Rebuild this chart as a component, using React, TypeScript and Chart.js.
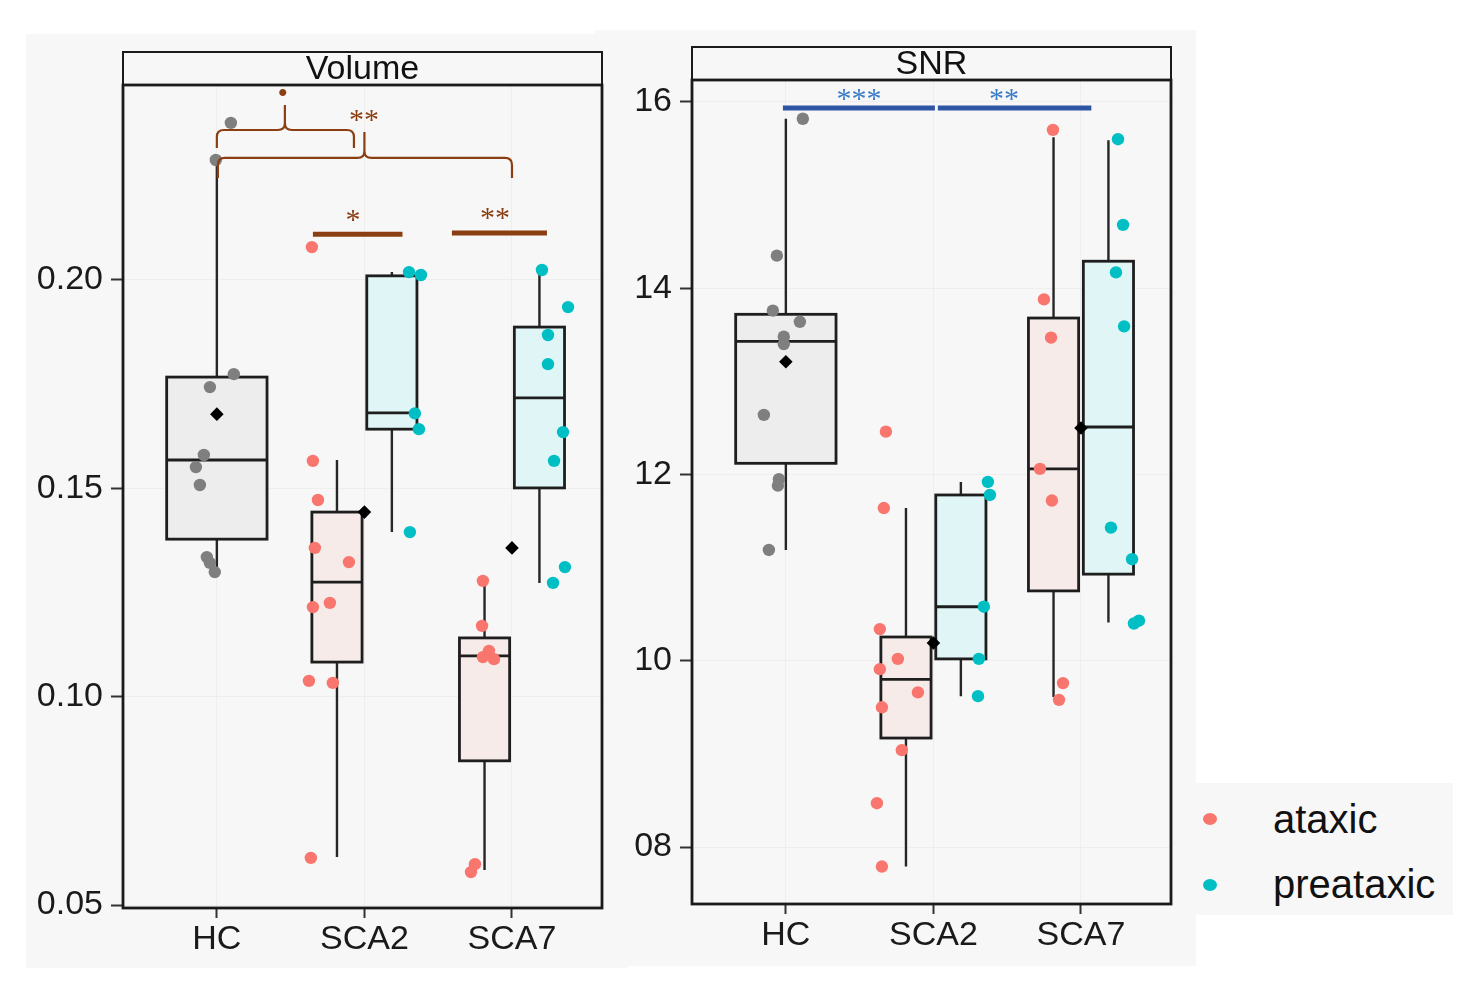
import React, { useEffect, useRef } from 'react';
import { Chart, registerables } from 'chart.js';

Chart.register(...registerables);

// ---------- shared ----------
const categories = ['HC', 'SCA2', 'SCA7'];
const groups = ['ataxic', 'preataxic'];
const groupColors = ['#F8766D', '#00BFC4'];
const hcColor = '#7f7f7f';

// ---------- Volume panel data ----------
const volumeTicks = [0.05, 0.1, 0.15, 0.2];
const volumeHC = [0.2377, 0.2288, 0.1774, 0.1743, 0.158, 0.1551, 0.1508, 0.1335, 0.1321, 0.1299];
const volumeHCJitter = [1.095, 0.993, 1.115, 0.953, 0.912, 0.858, 0.885, 0.932, 0.953, 0.986];
const volumeSCA2Ataxic = [0.2079, 0.1566, 0.1472, 0.1357, 0.1323, 0.1225, 0.1215, 0.1038, 0.1033, 0.0613];
const volumeSCA2AtaxicJitter = [1.644, 1.651, 1.685, 1.664, 1.895, 1.766, 1.651, 1.624, 1.786, 1.637];
const volumeSCA2Preataxic = [0.2019, 0.2012, 0.168, 0.1642, 0.1395];
const volumeSCA2PreataxicJitter = [2.302, 2.383, 2.342, 2.369, 2.308];
const volumeSCA7Ataxic = [0.1278, 0.117, 0.111, 0.1095, 0.109, 0.0598, 0.0579];
const volumeSCA7AtaxicJitter = [2.803, 2.797, 2.844, 2.803, 2.878, 2.749, 2.722];
const volumeSCA7Preataxic = [0.2024, 0.1935, 0.1868, 0.1798, 0.1635, 0.1566, 0.1311, 0.1273];
const volumeSCA7PreataxicJitter = [3.203, 3.38, 3.244, 3.244, 3.346, 3.285, 3.359, 3.278];
const volumeMeans = [0.1678, 0.1443, 0.1357];
// box stats: [lower whisker, Q1, median, Q3, upper whisker]
const volumeBoxHC = [0.1299, 0.1378, 0.1568, 0.1767, 0.2288];
const volumeBoxSCA2Ataxic = [0.0615, 0.1083, 0.1275, 0.1443, 0.1568];
const volumeBoxSCA2Preataxic = [0.1395, 0.1642, 0.1681, 0.201, 0.2019];
const volumeBoxSCA7Ataxic = [0.0584, 0.0846, 0.1098, 0.1141, 0.1278];
const volumeBoxSCA7Preataxic = [0.1273, 0.1501, 0.1717, 0.1887, 0.2024];
// significance annotations (data units)
const volumeBraces = [
  { x1: 1.0, x2: 1.929, tip: 1.461, yBar: 0.236, yEnd: 0.2317, yTip: 0.242 },
  { x1: 1.007, x2: 3.0, tip: 2.0, yBar: 0.2293, yEnd: 0.2245, yTip: 0.2355 },
];
const volumeSigBars = [
  { x1: 1.651, x2: 2.258, y: 0.211 },
  { x1: 2.593, x2: 3.237, y: 0.2113 },
];
const volumeSigLabels = [
  { x: 1.447, y: 0.2444, text: '•' },
  { x: 1.997, y: 0.2396, text: '**' },
  { x: 1.922, y: 0.2158, text: '*' },
  { x: 2.885, y: 0.2161, text: '**' },
];

// ---------- SNR panel data ----------
const snrTicks = [8, 10, 12, 14, 16];
const snrHC = [15.82, 14.35, 13.76, 13.64, 13.48, 13.4, 12.64, 11.95, 11.88, 11.19];
const snrHCJitter = [1.115, 0.939, 0.912, 1.095, 0.986, 0.986, 0.851, 0.953, 0.946, 0.885];
const snrSCA2Ataxic = [12.46, 11.64, 10.34, 10.02, 9.91, 9.66, 9.5, 9.04, 8.47, 7.79];
const snrSCA2AtaxicJitter = [1.678, 1.664, 1.637, 1.759, 1.637, 1.895, 1.651, 1.786, 1.617, 1.651];
const snrSCA2Preataxic = [11.92, 11.78, 10.58, 10.02, 9.62];
const snrSCA2PreataxicJitter = [2.369, 2.383, 2.342, 2.308, 2.302];
const snrSCA7Ataxic = [15.7, 13.88, 13.47, 12.06, 11.72, 9.76, 9.58];
const snrSCA7AtaxicJitter = [2.81, 2.749, 2.797, 2.722, 2.803, 2.878, 2.851];
const snrSCA7Preataxic = [15.6, 14.68, 14.17, 13.59, 11.43, 11.09, 10.43, 10.4];
const snrSCA7PreataxicJitter = [3.251, 3.285, 3.237, 3.292, 3.203, 3.346, 3.393, 3.359];
const snrMeans = [13.21, 10.19, 12.5];
const snrBoxHC = [11.19, 12.12, 13.43, 13.72, 15.82];
const snrBoxSCA2Ataxic = [7.79, 9.17, 9.8, 10.255, 11.64];
const snrBoxSCA2Preataxic = [9.62, 10.02, 10.58, 11.78, 11.92];
const snrBoxSCA7Ataxic = [9.61, 10.75, 12.06, 13.68, 15.62];
const snrBoxSCA7Preataxic = [10.41, 10.93, 12.51, 14.29, 15.59];
const snrSigBars = [
  { x1: 0.98, x2: 2.01, y: 15.935 },
  { x1: 2.03, x2: 3.07, y: 15.935 },
];
const snrSigLabels = [
  { x: 1.495, y: 16.086, text: '***' },
  { x: 2.478, y: 16.086, text: '**' },
];

// ---------- styling ----------
const FONT = '"Liberation Sans", Arial, sans-serif';
const BG = '#f7f7f7';
const DODGE = 0.186;
const SUB_HALF = 0.17;
const HC_HALF = 0.34;
const boxFills = { hc: '#ededed', ataxic: '#f6ebe9', preataxic: '#e0f5f5' };

type BoxSpec = { center: number; half: number; stats: number[]; fill: string };
type PanelSpec = {
  title: string;
  yMin: number;
  yMax: number;
  ticks: number[];
  tickLabel: (v: number) => string;
  hc: number[];
  hcX: number[];
  ataxic: number[][];
  ataxicX: number[][];
  preataxic: number[][];
  preataxicX: number[][];
  means: number[];
  boxes: BoxSpec[];
  braces: { x1: number; x2: number; tip: number; yBar: number; yEnd: number; yTip: number }[];
  bars: { x1: number; x2: number; y: number }[];
  labels: { x: number; y: number; text: string }[];
  annColor: string;
  labelColor: string;
  barWidth: number;
  padTop: number;
  padRight: number;
  xAxisHeight: number;
};

const volumeSpec: PanelSpec = {
  title: 'Volume',
  yMin: 0.04928,
  yMax: 0.2468,
  ticks: volumeTicks,
  tickLabel: (v) => v.toFixed(2),
  hc: volumeHC,
  hcX: volumeHCJitter,
  ataxic: [volumeSCA2Ataxic, volumeSCA7Ataxic],
  ataxicX: [volumeSCA2AtaxicJitter, volumeSCA7AtaxicJitter],
  preataxic: [volumeSCA2Preataxic, volumeSCA7Preataxic],
  preataxicX: [volumeSCA2PreataxicJitter, volumeSCA7PreataxicJitter],
  means: volumeMeans,
  boxes: [
    { center: 1, half: HC_HALF, stats: volumeBoxHC, fill: boxFills.hc },
    { center: 2 - DODGE, half: SUB_HALF, stats: volumeBoxSCA2Ataxic, fill: boxFills.ataxic },
    { center: 2 + DODGE, half: SUB_HALF, stats: volumeBoxSCA2Preataxic, fill: boxFills.preataxic },
    { center: 3 - DODGE, half: SUB_HALF, stats: volumeBoxSCA7Ataxic, fill: boxFills.ataxic },
    { center: 3 + DODGE, half: SUB_HALF, stats: volumeBoxSCA7Preataxic, fill: boxFills.preataxic },
  ],
  braces: volumeBraces,
  bars: volumeSigBars,
  labels: volumeSigLabels,
  annColor: '#8B3E12',
  labelColor: '#8B3E12',
  barWidth: 5,
  padTop: 51,
  padRight: 26,
  xAxisHeight: 60,
};

const snrSpec: PanelSpec = {
  title: 'SNR',
  yMin: 7.388,
  yMax: 16.236,
  ticks: snrTicks,
  tickLabel: (v) => String(v).padStart(2, '0'),
  hc: snrHC,
  hcX: snrHCJitter,
  ataxic: [snrSCA2Ataxic, snrSCA7Ataxic],
  ataxicX: [snrSCA2AtaxicJitter, snrSCA7AtaxicJitter],
  preataxic: [snrSCA2Preataxic, snrSCA7Preataxic],
  preataxicX: [snrSCA2PreataxicJitter, snrSCA7PreataxicJitter],
  means: snrMeans,
  boxes: [
    { center: 1, half: HC_HALF, stats: snrBoxHC, fill: boxFills.hc },
    { center: 2 - DODGE, half: SUB_HALF, stats: snrBoxSCA2Ataxic, fill: boxFills.ataxic },
    { center: 2 + DODGE, half: SUB_HALF, stats: snrBoxSCA2Preataxic, fill: boxFills.preataxic },
    { center: 3 - DODGE, half: SUB_HALF, stats: snrBoxSCA7Ataxic, fill: boxFills.ataxic },
    { center: 3 + DODGE, half: SUB_HALF, stats: snrBoxSCA7Preataxic, fill: boxFills.preataxic },
  ],
  braces: [],
  bars: snrSigBars,
  labels: snrSigLabels,
  annColor: '#2D55A3',
  labelColor: '#3B7CC8',
  barWidth: 5,
  padTop: 50,
  padRight: 25,
  xAxisHeight: 62,
};

function toPoints(ys: number[], xs: number[]) {
  return ys.map((y, i) => ({ x: xs[i], y }));
}

function panelPlugin(p: PanelSpec) {
  return {
    id: 'panel_' + p.title,
    beforeDatasetsDraw(chart: any) {
      const { ctx } = chart;
      const x = chart.scales.x;
      const y = chart.scales.y;
      ctx.save();
      for (const b of p.boxes) {
        const [lo, q1, med, q3, hi] = b.stats;
        const xc = x.getPixelForValue(b.center);
        const xl = x.getPixelForValue(b.center - b.half);
        const xr = x.getPixelForValue(b.center + b.half);
        const yt = y.getPixelForValue(q3);
        const yb = y.getPixelForValue(q1);
        ctx.strokeStyle = '#262626';
        ctx.lineWidth = 2.4;
        ctx.beginPath();
        ctx.moveTo(xc, y.getPixelForValue(hi));
        ctx.lineTo(xc, yt);
        ctx.moveTo(xc, yb);
        ctx.lineTo(xc, y.getPixelForValue(lo));
        ctx.stroke();
        ctx.fillStyle = b.fill;
        ctx.fillRect(xl, yt, xr - xl, yb - yt);
        ctx.strokeStyle = '#1e1e1e';
        ctx.lineWidth = 2.8;
        ctx.strokeRect(xl, yt, xr - xl, yb - yt);
        const ym = y.getPixelForValue(med);
        ctx.beginPath();
        ctx.moveTo(xl, ym);
        ctx.lineTo(xr, ym);
        ctx.stroke();
      }
      ctx.restore();
    },
    afterDatasetsDraw(chart: any) {
      const { ctx } = chart;
      const x = chart.scales.x;
      const y = chart.scales.y;
      ctx.save();
      ctx.strokeStyle = p.annColor;
      ctx.lineCap = 'butt';
      // curly braces
      ctx.lineWidth = 2.2;
      const r = 7;
      for (const br of p.braces) {
        const xa = x.getPixelForValue(br.x1);
        const xb = x.getPixelForValue(br.x2);
        const xt = x.getPixelForValue(br.tip);
        const yB = y.getPixelForValue(br.yBar);
        const yE = y.getPixelForValue(br.yEnd);
        const yT = y.getPixelForValue(br.yTip);
        ctx.beginPath();
        ctx.moveTo(xa, yE);
        ctx.lineTo(xa, yB + r);
        ctx.quadraticCurveTo(xa, yB, xa + r, yB);
        ctx.lineTo(xt - r, yB);
        ctx.quadraticCurveTo(xt, yB, xt, yB - r);
        ctx.lineTo(xt, yT);
        ctx.moveTo(xt, yB - r);
        ctx.quadraticCurveTo(xt, yB, xt + r, yB);
        ctx.lineTo(xb - r, yB);
        ctx.quadraticCurveTo(xb, yB, xb, yB + r);
        ctx.lineTo(xb, yE);
        ctx.stroke();
      }
      // significance bars
      ctx.lineWidth = p.barWidth;
      for (const bar of p.bars) {
        const yy = y.getPixelForValue(bar.y);
        ctx.beginPath();
        ctx.moveTo(x.getPixelForValue(bar.x1), yy);
        ctx.lineTo(x.getPixelForValue(bar.x2), yy);
        ctx.stroke();
      }
      // labels
      const size = 30;
      ctx.fillStyle = p.labelColor;
      ctx.font = `${size}px "Liberation Serif", "DejaVu Serif", serif`;
      ctx.textAlign = 'center';
      ctx.textBaseline = 'middle';
      for (const lb of p.labels) {
        const shift = lb.text.includes('*') ? 0.22 * size : 0;
        ctx.fillText(lb.text, x.getPixelForValue(lb.x), y.getPixelForValue(lb.y) + shift);
      }
      ctx.restore();
    },
    afterDraw(chart: any) {
      const { ctx, chartArea } = chart;
      const { left, right, top, bottom } = chartArea;
      ctx.save();
      // strip
      const stripH = 33;
      ctx.fillStyle = BG;
      ctx.fillRect(left, top - stripH, right - left, stripH);
      ctx.strokeStyle = '#1a1a1a';
      ctx.lineWidth = 2;
      ctx.strokeRect(left, top - stripH, right - left, stripH);
      ctx.fillStyle = '#111';
      ctx.font = `34px ${FONT}`;
      ctx.textAlign = 'center';
      ctx.textBaseline = 'middle';
      ctx.fillText(p.title, (left + right) / 2, top - stripH / 2 + 1);
      // panel border
      ctx.lineWidth = 2.8;
      ctx.strokeStyle = '#1a1a1a';
      ctx.strokeRect(left, top, right - left, bottom - top);
      ctx.restore();
    },
  };
}

function makeConfig(p: PanelSpec): any {
  const ataxicPts = p.ataxic.flatMap((ys, i) => toPoints(ys, p.ataxicX[i]));
  const preataxicPts = p.preataxic.flatMap((ys, i) => toPoints(ys, p.preataxicX[i]));
  const meanPts = p.means.map((m, i) => ({ x: i + 1, y: m }));
  const pointBase = { pointRadius: 6.2, pointBorderWidth: 0, pointHoverRadius: 6.2, showLine: false };
  return {
    type: 'scatter',
    data: {
      datasets: [
        { label: 'HC', data: toPoints(p.hc, p.hcX), backgroundColor: hcColor, ...pointBase },
        { label: groups[0], data: ataxicPts, backgroundColor: groupColors[0], ...pointBase },
        { label: groups[1], data: preataxicPts, backgroundColor: groupColors[1], ...pointBase },
        {
          label: 'mean',
          data: meanPts,
          backgroundColor: '#000',
          pointStyle: 'rectRot',
          pointRadius: 6.8,
          pointBorderWidth: 0,
          showLine: false,
        },
      ],
    },
    options: {
      responsive: false,
      animation: false,
      events: [],
      layout: { padding: { top: p.padTop, right: p.padRight, left: 0, bottom: 0 } },
      plugins: { legend: { display: false }, tooltip: { enabled: false } },
      scales: {
        x: {
          type: 'linear',
          min: 0.364,
          max: 3.61,
          afterBuildTicks: (axis: any) => {
            axis.ticks = categories.map((_, i) => ({ value: i + 1 }));
          },
          afterFit: (axis: any) => {
            axis.height = p.xAxisHeight;
          },
          ticks: {
            callback: (v: number) => categories[Math.round(v) - 1] ?? '',
            font: { family: FONT, size: 34 },
            color: '#1a1a1a',
            padding: 1,
            maxRotation: 0,
            autoSkip: false,
          },
          grid: {
            color: 'rgba(0,0,0,0.035)',
            tickColor: '#333',
            tickLength: 10,
            tickWidth: 2,
            lineWidth: 1,
          },
          border: { display: false },
        },
        y: {
          type: 'linear',
          min: p.yMin,
          max: p.yMax,
          afterBuildTicks: (axis: any) => {
            axis.ticks = p.ticks.map((v) => ({ value: v }));
          },
          afterFit: (axis: any) => {
            axis.width = 97;
          },
          ticks: {
            callback: (v: number) => p.tickLabel(v),
            font: { family: FONT, size: 34 },
            color: '#1a1a1a',
            padding: 8,
            autoSkip: false,
          },
          grid: {
            color: 'rgba(0,0,0,0.035)',
            tickColor: '#333',
            tickLength: 12,
            tickWidth: 2,
            lineWidth: 1,
          },
          border: { display: false },
        },
      },
    },
    plugins: [panelPlugin(p)],
  };
}

function PanelChart(props: { spec: PanelSpec; left: number; top: number; width: number; height: number }) {
  const ref = useRef<HTMLCanvasElement>(null);
  useEffect(() => {
    const chart = new Chart(ref.current as HTMLCanvasElement, makeConfig(props.spec));
    return () => chart.destroy();
  }, []);
  return (
    <canvas
      ref={ref}
      width={props.width}
      height={props.height}
      style={{ position: 'absolute', left: props.left, top: props.top, width: props.width, height: props.height }}
    />
  );
}

export default function App() {
  const legendTops = [799, 864];
  const dotTops = [813, 879];
  return (
    <div style={{ position: 'absolute', left: 0, top: 0, width: 1484, height: 986, background: '#ffffff', overflow: 'hidden' }}>
      <div style={{ position: 'absolute', left: 26, top: 34, width: 602, height: 934, background: BG }} />
      <div style={{ position: 'absolute', left: 595, top: 30, width: 601, height: 936, background: BG }} />
      <div style={{ position: 'absolute', left: 1196, top: 783, width: 257, height: 132, background: BG }} />
      <PanelChart spec={volumeSpec} left={26} top={34} width={602} height={934} />
      <PanelChart spec={snrSpec} left={595} top={30} width={601} height={936} />
      {groups.map((g, i) => (
        <React.Fragment key={g}>
          <div
            style={{
              position: 'absolute',
              left: 1203,
              top: dotTops[i],
              width: 14,
              height: 12,
              borderRadius: '50%',
              background: groupColors[i],
            }}
          />
          <div
            style={{
              position: 'absolute',
              left: 1273,
              top: legendTops[i],
              fontFamily: FONT,
              fontSize: 40,
              lineHeight: '40px',
              color: '#111',
              whiteSpace: 'nowrap',
            }}
          >
            {g}
          </div>
        </React.Fragment>
      ))}
    </div>
  );
}
